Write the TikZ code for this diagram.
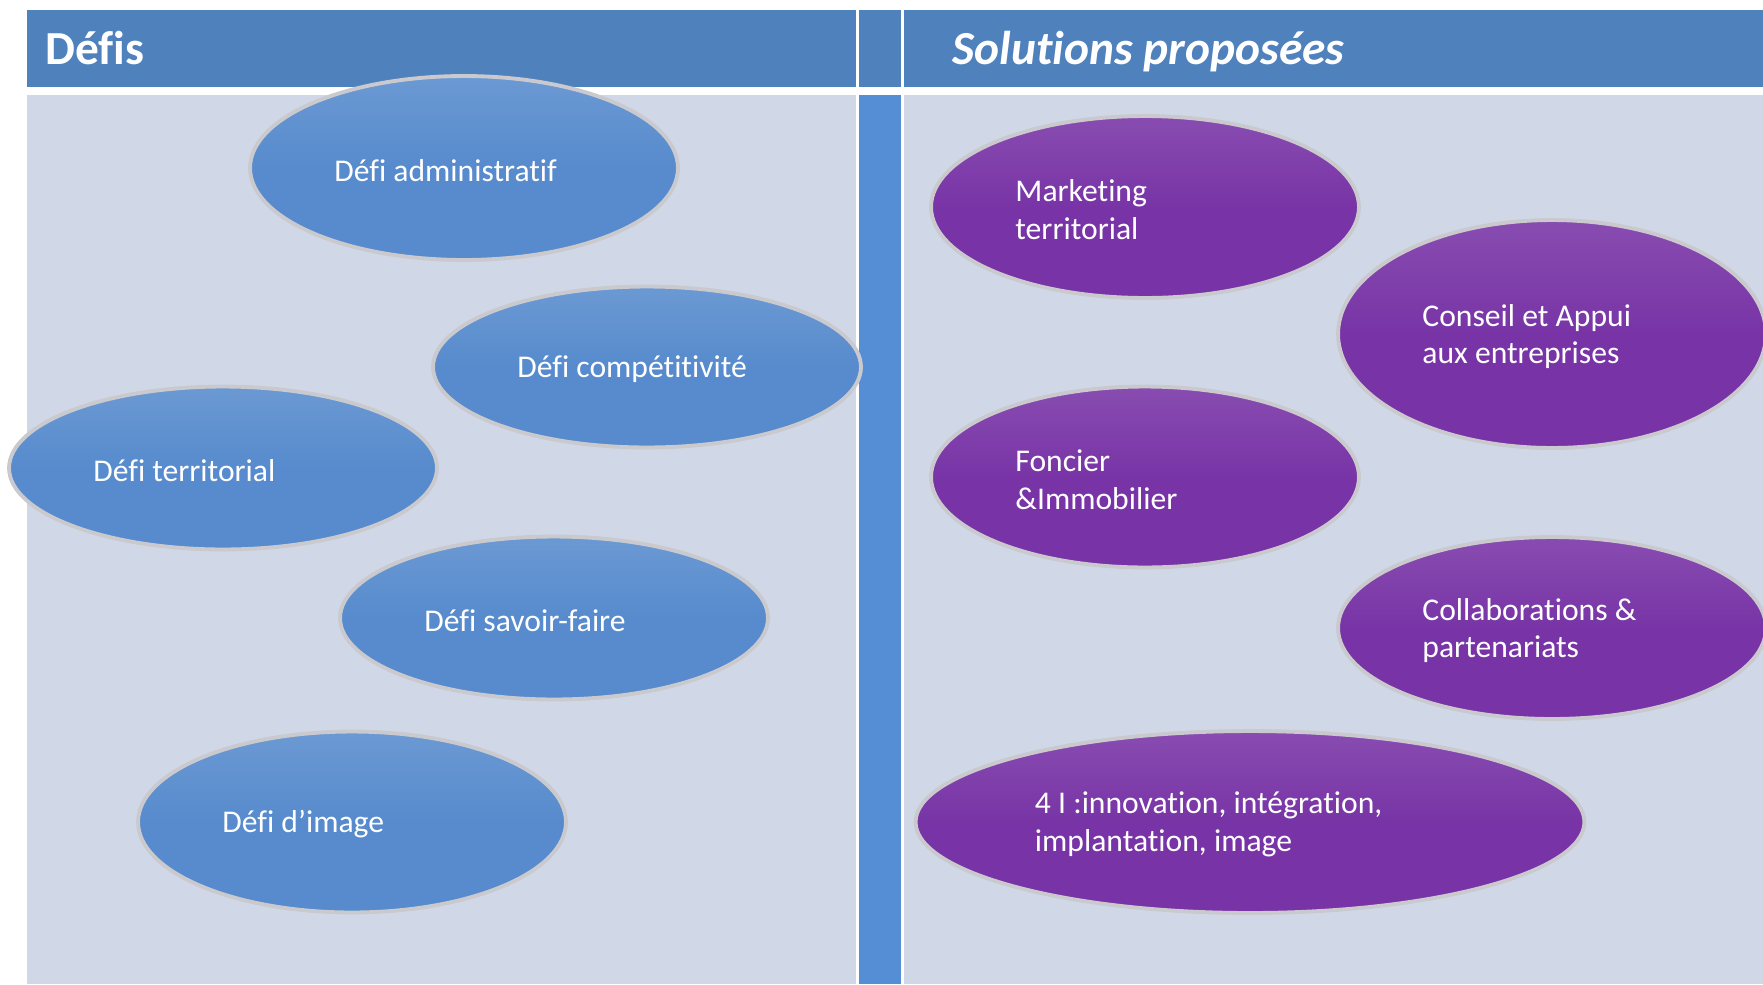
\documentclass[tikz,border=0pt]{standalone}
\usepackage{fontspec}
\setmainfont{Carlito}[Ligatures=NoCommon]
\usetikzlibrary{shapes.geometric,calc}

\definecolor{headblue}{HTML}{4F81BD}
\definecolor{panel}{HTML}{D0D8E8}
\definecolor{stripblue}{HTML}{558ED5}
\definecolor{defiblue}{HTML}{578BCD}
\definecolor{solpurple}{HTML}{7834A6}
\definecolor{rim}{HTML}{CACACE}

\tikzset{
  defi/.style={ellipse, inner sep=0pt, minimum width=8.56cm,
    top color=defiblue!88!white, bottom color=defiblue, middle color=defiblue,
    draw=rim, line width=2.2pt},
  sol/.style={ellipse, inner sep=0pt, minimum width=8.56cm,
    top color=solpurple!88!white, bottom color=solpurple, middle color=solpurple,
    draw=rim, line width=2.2pt},
  txt/.style={text=white, align=left, inner sep=0pt,
    font=\fontsize{18}{21.5}\selectfont},
  head/.style={text=white, inner sep=0pt, anchor=base west,
    font=\fontsize{27}{30}\selectfont\bfseries}
}

\begin{document}
\begin{tikzpicture}[x=0.02cm,y=-0.02cm]
        \useasboundingbox (0,0) rectangle (1763,984);

        % Header row
        \fill[headblue] (27,10) rectangle (856,87);
        \fill[headblue] (859,10) rectangle (901,87);
        \fill[headblue] (904,10) rectangle (1763,87);
        \node[head] (hdefis) at (45,64) {Défis};
        \node[head] (hsol) at (952,64) {\itshape Solutions proposées};

        % Panels
        \fill[panel] (27,95) rectangle (856,984);
        \fill[stripblue] (859,95) rectangle (901,984);
        \fill[panel] (904,95) rectangle (1763,984);

        % Defis
        \node[defi, minimum height=3.68cm] (adm) at (464,168) {};
        \node[defi, minimum height=3.22cm] (comp) at (647,367) {};
        \node[defi, minimum height=3.26cm] (terr) at (223,468) {};
        \node[defi, minimum height=3.26cm] (sav) at (554,618) {};
        \node[defi, minimum height=3.62cm] (img) at (352,822) {};
        \node[txt, anchor=west] (admt) at ([shift={(1.72cm,-0.05cm)}]adm.west) {Défi administratif};
        \node[txt, anchor=west] (compt) at ([shift={(1.72cm,-0.05cm)}]comp.west) {Défi compétitivité};
        \node[txt, anchor=west] (terrt) at ([shift={(1.72cm,-0.05cm)}]terr.west) {Défi territorial};
        \node[txt, anchor=west] (savt) at ([shift={(1.72cm,-0.05cm)}]sav.west) {Défi savoir-faire};
        \node[txt, anchor=west] (imgt) at ([shift={(1.72cm,-0.05cm)}]img.west) {Défi d’image};

        % Solutions
        \node[sol, minimum height=3.64cm] (mkt) at (1145,207) {};
        \node[sol, minimum height=4.56cm] (cons) at (1552,334) {};
        \node[sol, minimum height=3.62cm] (fonc) at (1145,477) {};
        \node[sol, minimum height=3.64cm] (coll) at (1552,628) {};
        \node[sol, minimum width=13.38cm, minimum height=3.64cm] (four) at (1250,822) {};
        \node[txt, anchor=west] (mktt) at ([shift={(1.72cm,-0.05cm)}]mkt.west) {Marketing\\territorial};
        \node[txt, anchor=west] (const) at ([shift={(1.72cm,-0.05cm)}]cons.west) {Conseil et Appui\\aux entreprises};
        \node[txt, anchor=west] (fonct) at ([shift={(1.72cm,-0.05cm)}]fonc.west) {Foncier\\\&Immobilier};
        \node[txt, anchor=west] (collt) at ([shift={(1.72cm,-0.05cm)}]coll.west) {Collaborations \&\\partenariats};
        \node[txt, anchor=west] (fourt) at ([shift={(2.42cm,-0.05cm)}]four.west) {4 I :innovation, intégration,\\implantation, image};
    \end{tikzpicture}
\end{document}
